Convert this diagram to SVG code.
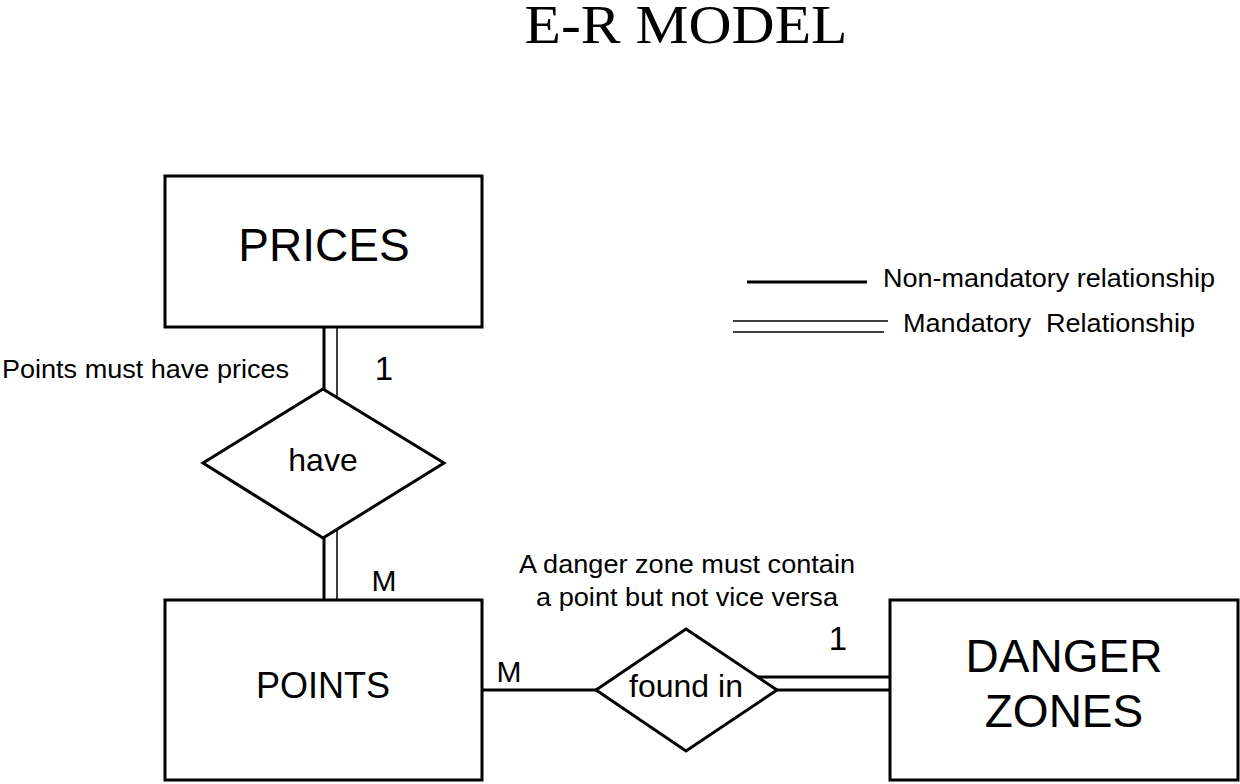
<svg xmlns="http://www.w3.org/2000/svg" width="1240" height="784" viewBox="0 0 1240 784">
<style>
.box{fill:#fff;stroke:#000;stroke-width:3}
.t{font-family:"Liberation Sans",Arial,sans-serif;fill:#000}
.thick{stroke:#000;stroke-width:3;fill:none}
.thin{stroke:#000;stroke-width:1.5;fill:none}
</style>
<rect width="1240" height="784" fill="#fff"/>
<text x="686" y="43" text-anchor="middle" font-family="Liberation Serif,serif" font-size="54" textLength="323" lengthAdjust="spacingAndGlyphs">E-R MODEL</text>
<g id="connectors">
<line class="thick" x1="324" y1="327" x2="324" y2="389"/>
<line class="thin" x1="337" y1="327" x2="337" y2="397"/>
<line class="thick" x1="324" y1="538" x2="324" y2="600"/>
<line class="thin" x1="337" y1="530" x2="337" y2="600"/>
<line class="thick" x1="482" y1="690" x2="596" y2="690"/>
<line class="thick" x1="777" y1="690" x2="890" y2="690"/>
<line class="thick" x1="758" y1="677" x2="890" y2="677"/>
</g>
<g id="prices"><rect class="box" x="165" y="176" width="317" height="151"/><text class="t" x="324" y="261" font-size="46" text-anchor="middle">PRICES</text></g>
<g id="have"><polygon class="box" points="323,389 444,463 323,538 203,463"/><text class="t" x="323" y="471" font-size="32" text-anchor="middle">have</text></g>
<g id="points"><rect class="box" x="165" y="600" width="317" height="180"/><text class="t" x="323" y="698" font-size="36" text-anchor="middle">POINTS</text></g>
<g id="foundin"><polygon class="box" points="686,629 777,690 686,751 596,690"/><text class="t" x="686" y="697" font-size="32" text-anchor="middle">found in</text></g>
<g id="dangerzones"><rect class="box" x="890" y="600" width="348" height="180"/><text class="t" x="1064" y="672" font-size="46" text-anchor="middle">DANGER</text><text class="t" x="1064" y="727" font-size="46" text-anchor="middle">ZONES</text></g>
<g id="labels">
<text class="t" x="2" y="378" font-size="26" textLength="287" lengthAdjust="spacingAndGlyphs">Points must have prices</text>
<text class="t" x="384" y="380" font-size="33" text-anchor="middle">1</text>
<text class="t" x="384" y="591" font-size="30" text-anchor="middle">M</text>
<text class="t" x="509" y="682" font-size="30" text-anchor="middle">M</text>
<text class="t" x="838" y="650" font-size="33" text-anchor="middle">1</text>
<text class="t" x="687" y="573" font-size="26" text-anchor="middle" textLength="336" lengthAdjust="spacingAndGlyphs">A danger zone must contain</text>
<text class="t" x="687" y="606" font-size="26" text-anchor="middle" textLength="302" lengthAdjust="spacingAndGlyphs">a point but not vice versa</text>
</g>
<g id="legend">
<line class="thick" x1="747" y1="282" x2="867" y2="282"/>
<line class="thin" x1="733" y1="321" x2="888" y2="321"/>
<line class="thin" x1="733" y1="332" x2="884" y2="332"/>
<text class="t" x="883" y="287" font-size="26" textLength="332" lengthAdjust="spacingAndGlyphs">Non-mandatory relationship</text>
<text class="t" x="903" y="332" font-size="26" xml:space="preserve" textLength="292" lengthAdjust="spacingAndGlyphs">Mandatory  Relationship</text>
</g>
</svg>
